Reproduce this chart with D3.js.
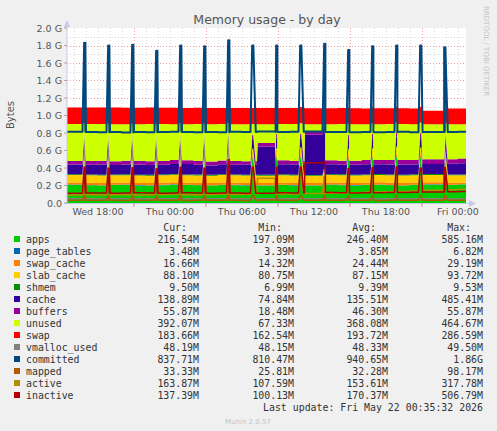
<!DOCTYPE html>
<html lang="en">
<head>
<meta charset="utf-8">
<title>Memory usage - by day</title>
<script src="https://cdn.jsdelivr.net/npm/d3@7"></script>
<style>
  body { margin: 0; background: #f0f0f0; }
  text { font-family: "DejaVu Sans", sans-serif; }
  .mono { font-family: "DejaVu Sans Mono", monospace; font-size: 9.9px; fill: #333; }
</style>
</head>
<body>
<script>
// hours since Wed 00:00
var baseTimes = [15.42,17,18,19,20,21,22,23,24,25,26,27,28,29,30,31.3,32.8,33,34,35.25,36.95,37,38,39,40,41,42,43,44,45.1,46.9,48,48.67];
// values in MiB
var apps       = [212,208,205,210,212,206,204,209,215,210,207,205,211,209,206,205,208,210,206,205,207,212,209,206,210,214,208,205,211,215,210,216,216];
var pageTables = [3.9,3.9,3.8,3.8,3.9,3.8,3.8,3.9,3.8,3.8,3.9,3.8,3.8,3.9,3.8,3.8,3.9,3.8,3.8,3.9,3.8,3.8,3.9,3.8,3.8,3.9,3.8,3.8,3.9,3.8,3.6,3.5,3.5];
var swapCache  = [25,25,25,24,24,24,25,24,24,24,25,24,24,24,25,24,24,24,25,24,24,24,25,24,24,24,25,24,24,24,24,17,17];
var slabCache  = [87,87,88,87,86,87,87,88,87,86,87,87,88,87,86,87,87,88,87,86,87,87,88,87,86,87,87,88,87,86,87,88,88];
var shmem      = [9.4,9.4,9.4,9.4,9.4,9.4,9.4,9.4,9.4,9.4,9.4,9.4,9.4,9.4,9.4,9.4,9.4,9.4,9.4,9.4,9.4,9.4,9.4,9.4,9.4,9.4,9.4,9.4,9.4,9.4,9.4,9.5,9.5];
var cache      = [112,115,118,110,114,120,116,112,118,122,115,110,117,113,116,330,120,118,115,470,125,118,112,116,120,115,118,121,114,119,124,130,139];
var buffers    = [42,44,45,43,46,44,42,45,47,44,43,46,45,44,43,44,45,46,44,45,47,46,48,47,49,50,51,52,53,54,55,56,56];
var unused     = [432,431,430,435,426,428,436,432,418,422,433,437,425,432,433,219,425,424,433,78,419,422,429,429,419,419,421,420,420,410,409,403,392];
var swap       = [195,195,194,194,193,193,193,192,192,192,191,191,190,190,190,190,189,189,188,188,188,187,187,186,186,186,185,185,185,158,184,184,184];
var vmalloc    = [48.3,48.3,48.3,48.3,48.3,48.3,48.3,48.3,48.3,48.3,48.3,48.3,48.3,48.3,48.3,48.3,48.3,48.3,48.3,48.3,48.3,48.3,48.3,48.3,48.3,48.3,48.3,48.3,48.3,48.3,48.2,48.2,48.2];
var committed  = [835,830,828,832,826,830,828,832,834,830,828,831,829,833,830,836,832,830,833,838,832,832,830,828,831,829,830,833,829,831,830,835,838];
var mapped     = [31,31,32,31,30,31,32,31,31,30,31,32,31,31,30,34,31,32,31,33,31,31,32,31,31,30,31,32,31,33,33,33,33];
var active     = [95,96,94,97,98,95,96,99,100,98,97,99,101,100,102,290,105,104,106,110,112,115,118,120,125,128,132,135,140,148,155,162,164];
var inactive   = [115,118,116,114,117,119,116,115,118,120,117,115,118,116,115,115,118,120,117,470,125,122,120,118,121,119,122,124,126,130,133,136,137];

// spikes every two hours
var spikeTimes     = [16.83,18.83,20.83,22.83,24.83,26.83,28.83,30.83,32.83,34.83,36.83,38.83,40.83,42.83,44.83,46.83];
var spikeApps      = [540,520,530,510,525,535,585,515,520,530,290,510,520,535,530,525];
var spikeUnused    = [120,125,120,135,125,115,70,125,125,120,5,135,125,115,120,120];
var spikeCommitted = [1874,1843,1853,1782,1843,1833,1905,1843,1843,1843,1864,1792,1833,1843,1843,1823];
var spikeActive    = [300,290,310,280,300,295,318,300,290,300,310,285,295,300,305,300];
var spikeInactive  = [420,410,415,400,420,410,507,420,415,420,480,405,415,420,410,415];
var spikeMapped    = [90,85,88,80,92,86,98,90,85,88,90,84,86,90,88,87];

var xTicks = [18,24,30,36,42,48];
var xTickLabels = ["Wed 18:00","Thu 00:00","Thu 06:00","Thu 12:00","Thu 18:00","Fri 00:00"];

var legendRows = [
  ["apps","#00CC00","216.54M","197.09M","246.40M","585.16M"],
  ["page_tables","#0066B3","3.48M","3.39M","3.85M","6.82M"],
  ["swap_cache","#FF8000","16.66M","14.32M","24.44M","29.19M"],
  ["slab_cache","#FFCC00","88.10M","80.75M","87.15M","93.72M"],
  ["shmem","#008F00","9.50M","6.99M","9.39M","9.53M"],
  ["cache","#330099","138.89M","74.84M","135.51M","485.41M"],
  ["buffers","#990099","55.87M","18.48M","46.30M","55.87M"],
  ["unused","#CCFF00","392.07M","67.33M","368.08M","464.67M"],
  ["swap","#FF0000","183.66M","162.54M","193.72M","286.59M"],
  ["vmalloc_used","#808080","48.19M","48.15M","48.33M","49.50M"],
  ["committed","#00487D","837.71M","810.47M","940.65M","1.86G"],
  ["mapped","#B35A00","33.33M","25.81M","32.28M","98.17M"],
  ["active","#B38F00","163.87M","107.59M","153.61M","317.78M"],
  ["inactive","#B30000","137.39M","100.13M","170.37M","506.79M"]
];

var areaKeys = ["apps","page_tables","swap_cache","slab_cache","shmem","cache","buffers","unused","swap"];
var lineKeys = ["vmalloc_used","committed","mapped","active","inactive"];
var colour = {};
legendRows.forEach(function(r){ colour[r[0]] = r[1]; });

// build timeline rows
var baseRows = [];
baseTimes.forEach(function(t, i){
  baseRows.push({t: t, apps: apps[i], page_tables: pageTables[i], swap_cache: swapCache[i],
    slab_cache: slabCache[i], shmem: shmem[i], cache: cache[i], buffers: buffers[i],
    unused: unused[i], swap: swap[i], vmalloc_used: vmalloc[i], committed: committed[i],
    mapped: mapped[i], active: active[i], inactive: inactive[i]});
});
function baseAt(t){
  var r = baseRows[0];
  baseRows.forEach(function(b){ if (b.t <= t) r = b; });
  return r;
}
var rows = baseRows.slice();
// hold previous value until just before each change (step edges)
baseRows.forEach(function(b, i){
  if (i > 0) rows.push(Object.assign({}, baseRows[i - 1], {t: b.t - 0.05}));
});
spikeTimes.forEach(function(t, k){
  var b = baseAt(t);
  var s = {apps: spikeApps[k], unused: spikeUnused[k], committed: spikeCommitted[k],
    active: spikeActive[k], inactive: spikeInactive[k], mapped: spikeMapped[k]};
  rows.push(Object.assign({}, baseAt(t - 0.12), {t: t - 0.12}));
  rows.push(Object.assign({}, b, s, {t: t + 0.02}));
  rows.push(Object.assign({}, b, s, {t: t + 0.12}));
  rows.push(Object.assign({}, baseAt(t + 0.32), {t: t + 0.32}));
});
rows.sort(function(a, b){ return a.t - b.t; });

var W = 497, H = 431;
var svg = d3.select("body").append("svg").attr("width", W).attr("height", H);
svg.append("rect").attr("width", W).attr("height", H).attr("fill", "#f0f0f0");

var x = d3.scaleLinear().domain([15.42, 48.67]).range([67, 466]);
var y = d3.scaleLinear().domain([0, 2048]).range([203, 28]);

svg.append("rect").attr("x", 67).attr("y", 28).attr("width", 399).attr("height", 175).attr("fill", "#fff");

// grid
var hours = d3.range(16, 49);
svg.selectAll(".vminor").data(hours).enter().append("line")
  .attr("x1", function(d){ return Math.round(x(d)) + 0.5; }).attr("x2", function(d){ return Math.round(x(d)) + 0.5; })
  .attr("y1", 28).attr("y2", 203)
  .attr("stroke", function(d){ return (d % 6 === 3) ? "#f3a0a0" : "#d8d8d8"; })
  .attr("stroke-dasharray", "1,2").attr("stroke-width", 1);
var yMinor = d3.range(1, 20).map(function(i){ return i * 102.4; });
svg.selectAll(".hgrid").data(yMinor).enter().append("line")
  .attr("x1", 67).attr("x2", 466)
  .attr("y1", function(d){ return Math.round(y(d)) + 0.5; }).attr("y2", function(d){ return Math.round(y(d)) + 0.5; })
  .attr("stroke", function(d, i){ return (i % 2 === 1) ? "#f3a0a0" : "#d8d8d8"; })
  .attr("stroke-dasharray", "1,2");

// stacked areas
var stack = d3.stack().keys(areaKeys);
var layers = stack(rows);
var area = d3.area()
  .x(function(d){ return x(d.data.t); })
  .y0(function(d){ return y(d[0]); }).y1(function(d){ return y(d[1]); });
svg.selectAll(".layer").data(layers).enter().append("path")
  .attr("d", area).attr("fill", function(d){ return colour[d.key]; });

// lines
lineKeys.forEach(function(k){
  var line = d3.line()
    .x(function(d){ return x(d.t); }).y(function(d){ return y(d[k]); });
  svg.append("path").datum(rows).attr("d", line).attr("fill", "none")
    .attr("stroke", colour[k]).attr("stroke-width", k === "committed" ? 2 : 1.5)
    .attr("stroke-linejoin", "round");
});

// axes
svg.append("line").attr("x1", 67).attr("x2", 67).attr("y1", 203).attr("y2", 22).attr("stroke", "#c8c8e8");
svg.append("path").attr("d", "M64,27 L67,20 L70,27 Z").attr("fill", "#c8c8e8");
svg.append("line").attr("x1", 64).attr("x2", 470).attr("y1", 203.5).attr("y2", 203.5).attr("stroke", "#c8c8e8");
svg.append("path").attr("d", "M469,200 L476,203.5 L469,207 Z").attr("fill", "#c8c8e8");

var yTicks = d3.range(0, 11).map(function(i){ return i * 204.8; });
svg.selectAll(".ylab").data(yTicks).enter().append("text")
  .attr("x", 62).attr("y", function(d){ return y(d) + 3.5; })
  .attr("text-anchor", "end").attr("font-size", 9.5).attr("fill", "#555")
  .text(function(d, i){ return i === 0 ? "0.0" : (d / 1024).toFixed(1) + " G"; });
svg.selectAll(".ytick").data(yTicks).enter().append("line")
  .attr("x1", 64).attr("x2", 67)
  .attr("y1", function(d){ return y(d); }).attr("y2", function(d){ return y(d); })
  .attr("stroke", "#aaa");

svg.selectAll(".xtick").data([21,27,33,39,45]).enter().append("line")
  .attr("x1", function(d){ return x(d); }).attr("x2", function(d){ return x(d); })
  .attr("y1", 203).attr("y2", 207).attr("stroke", "#f08080");
svg.selectAll(".xlab").data(xTicks).enter().append("text")
  .attr("x", function(d){ return x(d); }).attr("y", 215)
  .attr("text-anchor", "middle").attr("font-size", 9.5).attr("fill", "#555")
  .text(function(d, i){ return xTickLabels[i]; });

// titles
svg.append("text").attr("x", 267).attr("y", 24).attr("text-anchor", "middle")
  .attr("font-size", 12.5).attr("fill", "#555").text("Memory usage - by day");
svg.append("text").attr("transform", "translate(14,115) rotate(-90)").attr("text-anchor", "middle")
  .attr("font-size", 10).attr("fill", "#555").text("Bytes");
svg.append("text").attr("transform", "translate(484,6) rotate(90)").attr("text-anchor", "start")
  .attr("font-size", 7).attr("fill", "#c4c4c4").text("RRDTOOL / TOBI OETIKER");

// legend
var cols = [199, 294, 388, 483];
["Cur:","Min:","Avg:","Max:"].forEach(function(h, i){
  svg.append("text").attr("class", "mono").attr("x", cols[i] - 12).attr("y", 231)
    .attr("text-anchor", "end").text(h);
});
var lg = svg.selectAll(".lg").data(legendRows).enter().append("g")
  .attr("transform", function(d, i){ return "translate(0," + (243 + i * 12) + ")"; });
lg.append("rect").attr("x", 14).attr("y", -7).attr("width", 6).attr("height", 6)
  .attr("fill", function(d){ return d[1]; });
lg.append("text").attr("class", "mono").attr("x", 26).attr("y", 0).text(function(d){ return d[0]; });
[2,3,4,5].forEach(function(c, i){
  lg.append("text").attr("class", "mono").attr("x", cols[i]).attr("y", 0)
    .attr("text-anchor", "end").text(function(d){ return d[c]; });
});
svg.append("text").attr("class", "mono").attr("x", 483).attr("y", 411)
  .attr("text-anchor", "end").text("Last update: Fri May 22 00:35:32 2026");
svg.append("text").attr("x", 248).attr("y", 424).attr("text-anchor", "middle")
  .attr("font-size", 7).attr("fill", "#c4c4c4").text("Munin 2.0.57");
</script>
</body>
</html>
